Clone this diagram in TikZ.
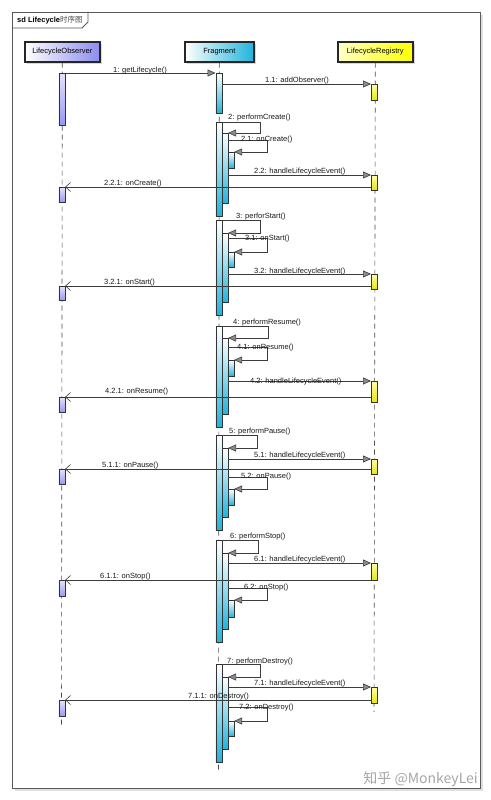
\documentclass[tikz,border=0pt]{standalone}
\usepackage{fontspec}
\setmainfont{Liberation Sans}
\newfontfamily\cjk{Noto Sans CJK SC}
\usetikzlibrary{arrows.meta,shadows}

\definecolor{obsblue}{HTML}{8C8CF0}
\definecolor{fragcyan}{HTML}{1EB4DC}
\definecolor{regpale}{HTML}{FFFFC8}
\definecolor{regyellow}{HTML}{FFFF00}
\definecolor{msgline}{HTML}{3C3C3C}

% activation bar: style, name, left x, top y, bottom y
\newcommand{\actbar}[5]{%
  \node[#1, minimum height=#5-#4, anchor=north west] (#2) at (#3,#4) {};}

\begin{document}
\begin{tikzpicture}[x=1pt, y=-1pt, font=\fontsize{7.5}{9}\selectfont,
    head/.style={draw=black!85, line width=1.6pt, minimum height=20pt, inner sep=0pt,
      left color=white, drop shadow={shadow xshift=2pt, shadow yshift=-2pt, fill=black!30}},
    life/.style={draw=black!70, line width=0.6pt, dash pattern=on 5pt off 4pt},
    bar/.style={draw=black!80, line width=0.6pt, minimum width=6pt, inner sep=0pt},
    obar/.style={bar, top color=obsblue!25, bottom color=obsblue!90},
    fbar/.style={bar, top color=white, bottom color=fragcyan},
    rbar/.style={bar, top color=regyellow!35, bottom color=regyellow!90!black!95},
    msg/.style={draw=msgline, line width=0.6pt,
      -{Triangle[length=8pt, width=7pt, fill=black!45]}},
    ret/.style={draw=msgline, line width=0.6pt,
      -{Straight Barb[length=5pt, width=9pt]}},
    lbl/.style={anchor=base west, inner sep=0pt, text=black!90},
    frame/.style={draw=black!65, line width=0.9pt}]

  \path[fill=white] (0,0) rectangle (490,800);
  \useasboundingbox (0,0) rectangle (490,800);

  % frame and tab
  \fill[black!12] (15,15) rectangle (483,791);
  \draw[frame, fill=white] (12,12) rectangle (480,788);
  \draw[frame] (12,28) -- (82,28) -- (88,22) -- (88,12);
  \node[anchor=base west, inner sep=0pt] (title) at (17,23)
    {\textbf{sd Lifecycle}{\cjk\color{black!70}时序图}};

  % lifeline heads
  \node[head, right color=obsblue, minimum width=75pt, anchor=north west] (obs) at (24,41) {LifecycleObserver};
  \node[head, right color=fragcyan, minimum width=69pt, anchor=north west] (frag) at (184,41) {Fragment};
  \node[head, left color=regpale, right color=regyellow, minimum width=75pt, anchor=north west] (reg) at (337,41) {LifecycleRegistry};

  \coordinate (obsend) at (61.5,727);
  \coordinate (fragend) at (218.5,772);
  \coordinate (regend) at (374,712);
  \draw[life] (obs.south) -- (obsend);
  \draw[life] (frag.south) -- (fragend);
  \draw[life] (reg.south) -- (regend);

  % 1
  \actbar{obar}{o1}{58.5}{73}{125}
  \actbar{fbar}{f1}{215.5}{73}{113}
  \actbar{rbar}{r1}{371}{84}{100}
  \draw[msg] (o1.north east) -- (f1.north west);
  \draw[msg] (f1.east |- r1.north) -- (r1.north west);
  \node[lbl] (l1) at (113,72.5) {1: getLifecycle()};
  \node[lbl] (l11) at (265,82.5) {1.1: addObserver()};

  % 2
  \actbar{fbar}{f2}{215.5}{122}{216}
  \actbar{fbar}{g2}{221.5}{133}{203}
  \actbar{fbar}{h2}{227.5}{152}{168}
  \actbar{rbar}{r2}{371}{175}{190}
  \actbar{obar}{o2}{58.5}{187}{202}
  \draw[msg] (f2.north east) -- ++(38,0) |- (g2.north east);
  \draw[msg] (g2.east |- 0,140) -- ++(39,0) |- (h2.north east);
  \draw[msg] (g2.east |- r2.north) -- (r2.north west);
  \draw[ret] (r2.west |- o2.north) -- (o2.north east);
  \node[lbl] (l2) at (228,119.5) {2: performCreate()};
  \node[lbl] (l21) at (241,141) {2.1: onCreate()};
  \node[lbl] (l22) at (254,173.5) {2.2: handleLifecycleEvent()};
  \node[lbl] (l221) at (104,185) {2.2.1: onCreate()};

  % 3
  \actbar{fbar}{f3}{215.5}{220}{315}
  \actbar{fbar}{g3}{221.5}{233}{302}
  \actbar{fbar}{h3}{227.5}{252}{267}
  \actbar{rbar}{r3}{371}{274}{289}
  \actbar{obar}{o3}{58.5}{286}{300}
  \draw[msg] (f3.north east) -- ++(38,0) |- (g3.north east);
  \draw[msg] (g3.east |- 0,238) -- ++(39,0) |- (h3.north east);
  \draw[msg] (g3.east |- r3.north) -- (r3.north west);
  \draw[ret] (r3.west |- o3.north) -- (o3.north east);
  \node[lbl] (l3) at (236,218.5) {3: perforStart()};
  \node[lbl] (l31) at (245,240) {3.1: onStart()};
  \node[lbl] (l32) at (254,273) {3.2: handleLifecycleEvent()};
  \node[lbl] (l321) at (104,284) {3.2.1: onStart()};

  % 4
  \actbar{fbar}{f4}{215.5}{326}{427}
  \actbar{fbar}{g4}{221.5}{338}{414}
  \actbar{fbar}{h4}{227.5}{360}{376}
  \actbar{rbar}{r4}{371}{381}{402}
  \actbar{obar}{o4}{58.5}{397}{412}
  \draw[msg] (f4.north east) -- ++(46,0) |- (g4.north east);
  \draw[msg] (g4.east |- 0,347) -- ++(39,0) |- (h4.north east);
  \draw[msg] (g4.east |- r4.north) -- (r4.north west);
  \draw[ret] (r4.west |- o4.north) -- (o4.north east);
  \node[lbl] (l4) at (233,324) {4: performResume()};
  \node[lbl] (l41) at (237,349) {4.1: onResume()};
  \node[lbl] (l42) at (250,383.5) {4.2: handleLifecycleEvent()};
  \node[lbl] (l421) at (105,393) {4.2.1: onResume()};

  % 5
  \actbar{fbar}{f5}{215.5}{435}{530}
  \actbar{fbar}{g5}{221.5}{448}{517}
  \actbar{fbar}{h5}{227.5}{489}{505}
  \actbar{rbar}{r5}{371}{459}{474}
  \actbar{obar}{o5}{58.5}{469}{484}
  \draw[msg] (f5.north east) -- ++(35,0) |- (g5.north east);
  \draw[msg] (g5.east |- r5.north) -- (r5.north west);
  \draw[ret] (r5.west |- o5.north) -- (o5.north east);
  \draw[msg] (g5.east |- 0,477) -- ++(39,0) |- (h5.north east);
  \node[lbl] (l5) at (229,433.5) {5: performPause()};
  \node[lbl] (l51) at (254,457) {5.1: handleLifecycleEvent()};
  \node[lbl] (l511) at (102,467) {5.1.1: onPause()};
  \node[lbl] (l52) at (241,478.5) {5.2: onPause()};

  % 6
  \actbar{fbar}{f6}{215.5}{540}{642}
  \actbar{fbar}{g6}{221.5}{553}{629}
  \actbar{fbar}{h6}{227.5}{600}{617}
  \actbar{rbar}{r6}{371}{563}{580}
  \actbar{obar}{o6}{58.5}{580}{596}
  \draw[msg] (f6.north east) -- ++(36,0) |- (g6.north east);
  \draw[msg] (g6.east |- r6.north) -- (r6.north west);
  \draw[ret] (r6.west |- o6.north) -- (o6.north east);
  \draw[msg] (g6.east |- 0,588) -- ++(39,0) |- (h6.north east);
  \node[lbl] (l6) at (230,538) {6: performStop()};
  \node[lbl] (l61) at (254,561) {6.1: handleLifecycleEvent()};
  \node[lbl] (l611) at (100,578) {6.1.1: onStop()};
  \node[lbl] (l62) at (244,589) {6.2: onStop()};

  % 7
  \actbar{fbar}{f7}{215.5}{664}{762}
  \actbar{fbar}{g7}{221.5}{677}{749}
  \actbar{fbar}{h7}{227.5}{721}{736}
  \actbar{rbar}{r7}{371}{687}{703}
  \actbar{obar}{o7}{58.5}{700}{716}
  \draw[msg] (f7.north east) -- ++(38,0) |- (g7.north east);
  \draw[msg] (g7.east |- r7.north) -- (r7.north west);
  \draw[ret] (r7.west |- o7.north) -- (o7.north east);
  \draw[msg] (g7.east |- 0,707) -- ++(39,0) |- (h7.north east);
  \node[lbl] (l7) at (227,663) {7: performDestroy()};
  \node[lbl] (l71) at (254,685) {7.1: handleLifecycleEvent()};
  \node[lbl] (l711) at (188,698) {7.1.1: onDestroy()};
  \node[lbl] (l72) at (239,709) {7.2: onDestroy()};

  % watermark
  \node[anchor=base east, inner sep=0pt, text=black!35, font=\cjk\fontsize{14}{16}\selectfont] (mark) at (478,783) {知乎 @MonkeyLei};
\end{tikzpicture}
\end{document}
